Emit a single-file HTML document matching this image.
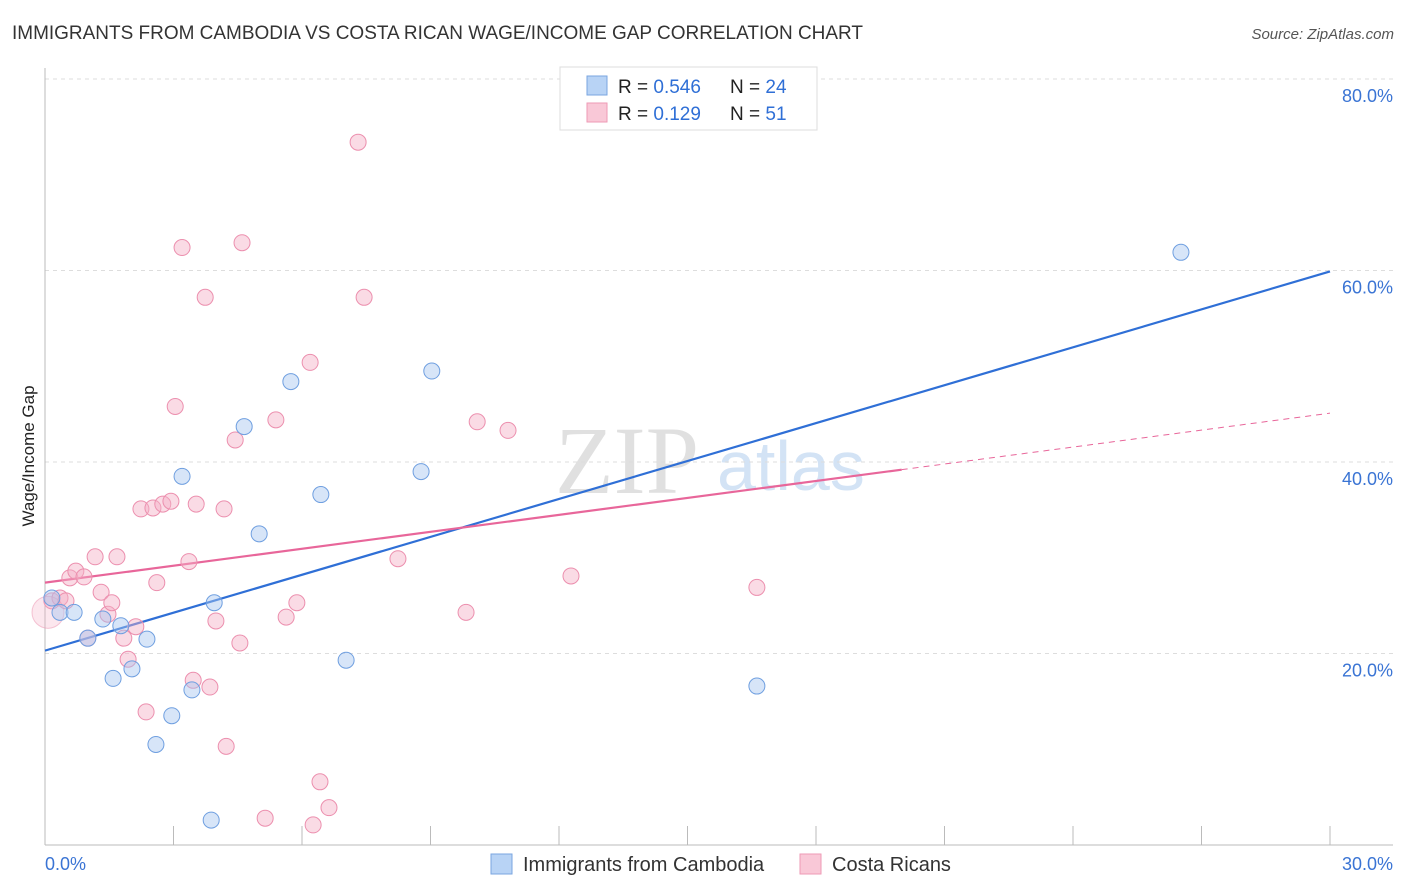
<!DOCTYPE html>
<html><head><meta charset="utf-8"><style>
body{margin:0;background:#fff;font-family:"Liberation Sans",sans-serif}
svg{display:block}
</style></head><body>
<svg id="c" width="1406" height="892" xmlns="http://www.w3.org/2000/svg">
<text x="12" y="39" font-size="19" fill="#333" textLength="851" lengthAdjust="spacingAndGlyphs">IMMIGRANTS FROM CAMBODIA VS COSTA RICAN WAGE/INCOME GAP CORRELATION CHART</text>
<text x="1394" y="39" font-size="15" fill="#555" font-style="italic" text-anchor="end">Source: ZipAtlas.com</text>
<g>
<text x="555" y="493" font-size="96" font-family="Liberation Serif,serif" fill="#e0e0e0">ZIP</text>
<text x="717" y="490" font-size="70" fill="#d3e3f5">atlas</text>
</g>
<g id="grid"></g>
<g id="axes"></g>
<g id="lines"></g>
<g id="pts"></g>
<text x="34" y="456" font-size="17" fill="#222" transform="rotate(-90 34 456)" text-anchor="middle">Wage/Income Gap</text>
<g>
<rect x="560" y="67" width="257" height="63" fill="#fff" stroke="#ddd"/>
<rect x="587" y="76" width="20" height="19" fill="#b8d3f5" stroke="#7aa6e0"/>
<rect x="587" y="103" width="20" height="19" fill="#f9c8d7" stroke="#ee9ab6"/>
<text x="618" y="93" font-size="19" fill="#222">R = <tspan fill="#2f6fd6">0.546</tspan></text>
<text x="730" y="93" font-size="19" fill="#222">N = <tspan fill="#2f6fd6">24</tspan></text>
<text x="618" y="120" font-size="19" fill="#222">R = <tspan fill="#2f6fd6"> 0.129</tspan></text>
<text x="730" y="120" font-size="19" fill="#222">N = <tspan fill="#2f6fd6"> 51</tspan></text>
</g>
<g>
<rect x="491" y="854" width="21" height="20" fill="#b8d3f5" stroke="#7aa6e0"/>
<text x="523" y="871" font-size="20" fill="#333">Immigrants from Cambodia</text>
<rect x="800" y="854" width="21" height="20" fill="#f9c8d7" stroke="#ee9ab6"/>
<text x="832" y="871" font-size="20" fill="#333">Costa Ricans</text>
</g>
</svg>
<script>
const xTicks=[0,3,6,9,12,15,18,21,24,27,30];
const yTicks=[20,40,60,80];
const blueX=[0.16,0.35,0.68,1.00,1.35,1.59,1.77,2.03,2.38,2.59,2.96,3.20,3.43,3.88,3.95,4.65,5.00,5.74,6.44,7.03,8.78,9.03,16.62,26.52];
const blueY=[25.8,24.3,24.3,21.6,23.6,17.4,22.9,18.4,21.5,10.5,13.5,38.5,16.2,2.6,25.3,43.7,32.5,48.4,36.6,19.3,39.0,49.5,16.6,61.9];
const pinkX=[0.16,0.35,0.49,0.58,0.72,0.91,1.00,1.17,1.31,1.47,1.56,1.68,1.84,1.94,2.12,2.24,2.36,2.52,2.61,2.75,2.94,3.04,3.20,3.36,3.46,3.53,3.74,3.85,3.99,4.18,4.23,4.44,4.55,4.60,5.14,5.39,5.63,5.88,6.19,6.26,6.42,6.63,7.31,7.45,8.24,9.83,10.09,10.81,12.28,16.62,0.07];
const pinkY=[25.5,25.8,25.5,27.9,28.6,28.0,21.6,30.1,26.4,24.1,25.3,30.1,21.6,19.4,22.8,35.1,13.9,35.2,27.4,35.6,35.9,45.8,62.4,29.6,17.2,35.6,57.2,16.5,23.4,35.1,10.3,42.3,21.1,62.9,2.8,44.4,23.8,25.3,50.4,2.1,6.6,3.9,73.4,57.2,29.9,24.3,44.2,43.3,28.1,26.9,24.3];
const blueTrend=[20.3,59.9];
const pinkTrend=[27.4,45.1];
const pinkSolidEnd=20;
const X=v=>45+v/30*1285;
const Y=v=>845-v/20*191.5;
const NS="http://www.w3.org/2000/svg";
function mk(tag,attrs,parent){const e=document.createElementNS(NS,tag);for(const k in attrs)e.setAttribute(k,attrs[k]);document.getElementById(parent).appendChild(e);return e;}
yTicks.forEach(t=>{
 const l=mk('line',{x1:45,x2:1393,y1:Y(t),y2:Y(t),stroke:'#ddd','stroke-dasharray':'4,4'},'grid');
 
 
 const tx=mk('text',{x:1393,y:Y(t)+23,'font-size':18,fill:'#3a74d4','text-anchor':'end'},'grid');
 tx.textContent=t.toFixed(1)+'%';
 
 
});
const ax=mk('line',{x1:45,x2:1393,y1:845,y2:845,stroke:'#bbb'},'axes');


const ay=mk('line',{x1:45,x2:45,y1:68,y2:845,stroke:'#bbb'},'axes');


xTicks.forEach(t=>{
 const l=mk('line',{x1:X(t),x2:X(t),y1:826,y2:845,stroke:'#bbb'},'axes');
 
 
});
[[0,'start',45],[30,'end',1393]].forEach(([t,a,x])=>{
 const tx=mk('text',{x:x,y:870,'font-size':18,fill:'#3a74d4','text-anchor':a},'axes');
 tx.textContent=t.toFixed(1)+'%';
 
 
});
function pts(xs,ys,fill,stroke,name){xs.forEach((x,i)=>{
 const big=(name==='pink'&&i===xs.length-1);
 const c=mk('circle',{cx:X(x),cy:Y(ys[i]),r:big?16:8,fill:fill,'fill-opacity':big?0.3:0.45,stroke:stroke,'stroke-width':1,'stroke-opacity':big?0.5:1},'pts');
 
 
});}
pts(pinkX,pinkY,'#f5b0c6','#ec8fae','pink');
pts(blueX,blueY,'#a6c6f0','#6f9fe0','blue');
const bl=mk('line',{x1:X(0),y1:Y(blueTrend[0]),x2:X(30),y2:Y(blueTrend[1]),stroke:'#2f6fd6','stroke-width':2.2},'lines');


const pm=v=>pinkTrend[0]+(pinkTrend[1]-pinkTrend[0])*v/30;
const pl=mk('line',{x1:X(0),y1:Y(pinkTrend[0]),x2:X(pinkSolidEnd),y2:Y(pm(pinkSolidEnd)),stroke:'#e8669a','stroke-width':2.2},'lines');


const pd=mk('line',{x1:X(pinkSolidEnd),y1:Y(pm(pinkSolidEnd)),x2:X(30),y2:Y(pinkTrend[1]),stroke:'#e8669a','stroke-width':1,'stroke-dasharray':'6,5'},'lines');


</script>
</body></html>
